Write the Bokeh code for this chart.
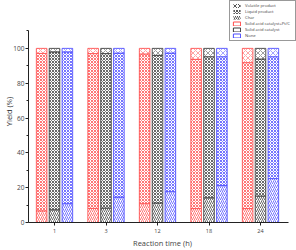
from bokeh.plotting import figure
from bokeh.models import ColumnDataSource, Legend, LegendItem, Range1d, FixedTicker, Title
from bokeh.embed import file_html
from bokeh.resources import INLINE

times = ["1", "3", "12", "18", "24"]
series = ["Solid acid catalyst+Pt/C", "Solid acid catalyst", "None"]
colors = ["#ff4a4a", "#3a3a3a", "#4a4aff"]
offsets = [-0.25, 0.0, 0.25]

char = [
    [6.7, 8.1, 10.8, 8.0, 8.0],
    [7.3, 8.3, 11.2, 14.2, 15.2],
    [10.8, 14.6, 17.7, 21.2, 25.2],
]
liquid = [
    [90.4, 88.9, 86.0, 85.7, 83.8],
    [90.7, 88.7, 84.8, 81.0, 78.7],
    [87.2, 82.7, 79.6, 74.0, 70.0],
]
volatile = [
    [2.9, 3.0, 3.2, 6.3, 8.2],
    [2.0, 3.0, 4.0, 4.8, 6.1],
    [2.0, 2.7, 2.7, 4.8, 4.8],
]

FONT = "Open Sans"
p = figure(width=296, height=250, output_backend="svg", toolbar_location=None,
           x_range=Range1d(-0.505, 4.699), y_range=Range1d(0, 127.5),
           min_border_left=28, min_border_right=0, min_border_top=0, min_border_bottom=0)
p.grid.visible = False
p.outline_line_color = None

bar_w = 0.205
hatches = [("right_diagonal_line", 4), ("diagonal_cross", 3), ("diagonal_cross", 5)]
alphas = [0.85, 0.85, 0.55]
for i in range(3):
    xs = [k + offsets[i] for k in range(len(times))]
    b0 = [0] * len(times)
    t0 = char[i]
    t1 = [c + l for c, l in zip(char[i], liquid[i])]
    t2 = [a + v for a, v in zip(t1, volatile[i])]
    for (bot, top), (hp, hs), ha in zip([(b0, t0), (t0, t1), (t1, t2)], hatches, alphas):
        src = ColumnDataSource(dict(x=xs, bottom=bot, top=top))
        p.vbar(x="x", bottom="bottom", top="top", width=bar_w, source=src,
               fill_color="white", line_color=colors[i], line_width=1, line_alpha=0.85,
               hatch_pattern=hp, hatch_scale=hs, hatch_color=colors[i], hatch_alpha=ha,
               hatch_weight=0.9)

# legend-only renderers (no visible marks)
nan = float("nan")
proxy = lambda: ColumnDataSource(dict(x=[nan], bottom=[nan], top=[nan]))
items = []
for name, (hp, hs) in zip(["Volatile product", "Liquid product", "Char"],
                          [hatches[2], hatches[1], hatches[0]]):
    r = p.vbar(x="x", bottom="bottom", top="top", width=0.2, source=proxy(),
               fill_color="white", line_color=None, hatch_pattern=hp, hatch_scale=hs,
               hatch_color="#444444", hatch_weight=0.9)
    items.append(LegendItem(label=name, renderers=[r]))
for name, c in zip(series, colors):
    r = p.vbar(x="x", bottom="bottom", top="top", width=0.2, source=proxy(),
               fill_color="white", line_color=c, line_width=1)
    items.append(LegendItem(label=name, renderers=[r]))

legend = Legend(items=items, location="top_right", label_text_font_size="4.2px",
                label_text_font=FONT, glyph_height=5, glyph_width=9, label_height=5,
                label_width=48, spacing=1, padding=2, margin=0, label_standoff=4,
                border_line_color="#333333", border_line_width=0.7,
                background_fill_color="white", background_fill_alpha=1)
p.add_layout(legend, "center")

p.xaxis.ticker = FixedTicker(ticks=list(range(len(times))))
p.xaxis.major_label_overrides = {k: t for k, t in enumerate(times)}
p.xaxis.bounds = (-0.505, 4.544)
p.yaxis.bounds = (0, 110)
p.xaxis.axis_label = "Reaction time (h)"
p.yaxis.ticker = FixedTicker(ticks=[0, 20, 40, 60, 80, 100],
                             minor_ticks=[10, 30, 50, 70, 90, 110])
for ax in (p.xaxis, p.yaxis):
    ax.axis_label_text_font = FONT
    ax.axis_label_text_font_style = "normal"
    ax.axis_label_text_font_size = "7.5px"
    ax.major_label_text_font = FONT
    ax.axis_line_color = "#222222"
    ax.major_tick_line_color = "#222222"
    ax.minor_tick_line_color = "#222222"
    ax.major_tick_in = 0
    ax.major_tick_out = 3
    ax.minor_tick_in = 0
    ax.minor_tick_out = 2
    ax.axis_label_standoff = 0
    ax.major_label_standoff = 1
p.xaxis.major_label_text_font_size = "5.5px"
p.yaxis.major_label_text_font_size = "6.5px"
p.xaxis.minor_tick_line_color = None
p.xaxis.major_label_standoff = 3
p.xaxis.axis_label_standoff = 2

ytitle = Title(text="Yield (%)", align="center", offset=-11, standoff=-7,
               text_font=FONT, text_font_size="7.5px", text_font_style="normal",
               text_color="#333333")
p.add_layout(ytitle, "left")

open("out.html", "w").write(file_html(p, INLINE))
